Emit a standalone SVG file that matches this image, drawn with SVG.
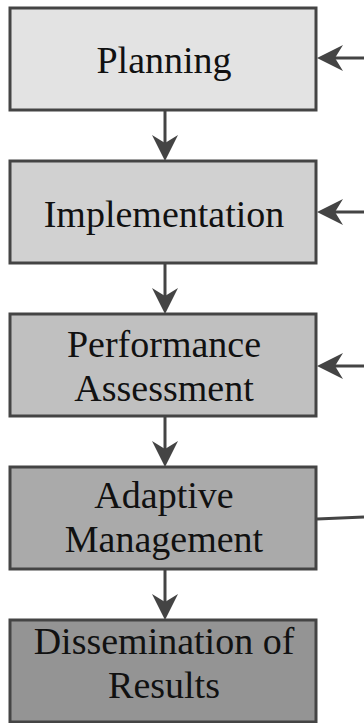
<svg xmlns="http://www.w3.org/2000/svg" width="364" height="723" viewBox="0 0 364 723">
<style>
.box{stroke:#444;stroke-width:3}
.t{font-family:"Liberation Serif","Times New Roman",serif;font-size:38px;fill:#111;text-anchor:middle}
.c{stroke:#444;stroke-width:3;fill:none}
.h{fill:#444;stroke:none}
</style>
<defs>
<path id="hd" d="M0,0 L-13,-26 L0,-19 L13,-26 Z"/>
</defs>
<rect width="364" height="723" fill="#fff"/>
<g id="connectors">
<line class="c" x1="165" y1="111" x2="165" y2="150"/>
<path class="h" d="M165,161 L152,135 L165,143 L178,135 Z"/>
<line class="c" x1="165" y1="264" x2="165" y2="303"/>
<path class="h" d="M165,314 L152,288 L165,296 L178,288 Z"/>
<line class="c" x1="165" y1="417" x2="165" y2="456"/>
<path class="h" d="M165,467 L152,441 L165,449 L178,441 Z"/>
<line class="c" x1="165" y1="570" x2="165" y2="609"/>
<path class="h" d="M165,620 L152,594 L165,602 L178,594 Z"/>
<line class="c" x1="330" y1="58" x2="364" y2="58"/>
<path class="h" d="M317,58 L343,45 L335,58 L343,71 Z"/>
<line class="c" x1="330" y1="212" x2="364" y2="212"/>
<path class="h" d="M317,212 L343,199 L335,212 L343,225 Z"/>
<line class="c" x1="330" y1="366" x2="364" y2="366"/>
<path class="h" d="M317,366 L343,353 L335,366 L343,379 Z"/>
<line class="c" x1="317" y1="519" x2="364" y2="517"/>
</g>
<g id="planning">
<rect class="box" x="10" y="8" width="306" height="102" fill="#e3e3e3"/>
<text class="t" x="164" y="73">Planning</text>
</g>
<g id="implementation">
<rect class="box" x="10" y="161" width="306" height="102" fill="#d1d1d1"/>
<text class="t" x="164" y="227">Implementation</text>
</g>
<g id="performance">
<rect class="box" x="10" y="314" width="306" height="102" fill="#c0c0c0"/>
<text class="t" x="164" y="357">Performance</text>
<text class="t" x="164" y="401">Assessment</text>
</g>
<g id="adaptive">
<rect class="box" x="10" y="467" width="306" height="102" fill="#aaaaaa"/>
<text class="t" x="164" y="508">Adaptive</text>
<text class="t" x="164" y="552">Management</text>
</g>
<g id="dissemination">
<rect class="box" x="10" y="620" width="306" height="102" fill="#949494"/>
<text class="t" x="164" y="654">Dissemination of</text>
<text class="t" x="164" y="698">Results</text>
</g>
</svg>
